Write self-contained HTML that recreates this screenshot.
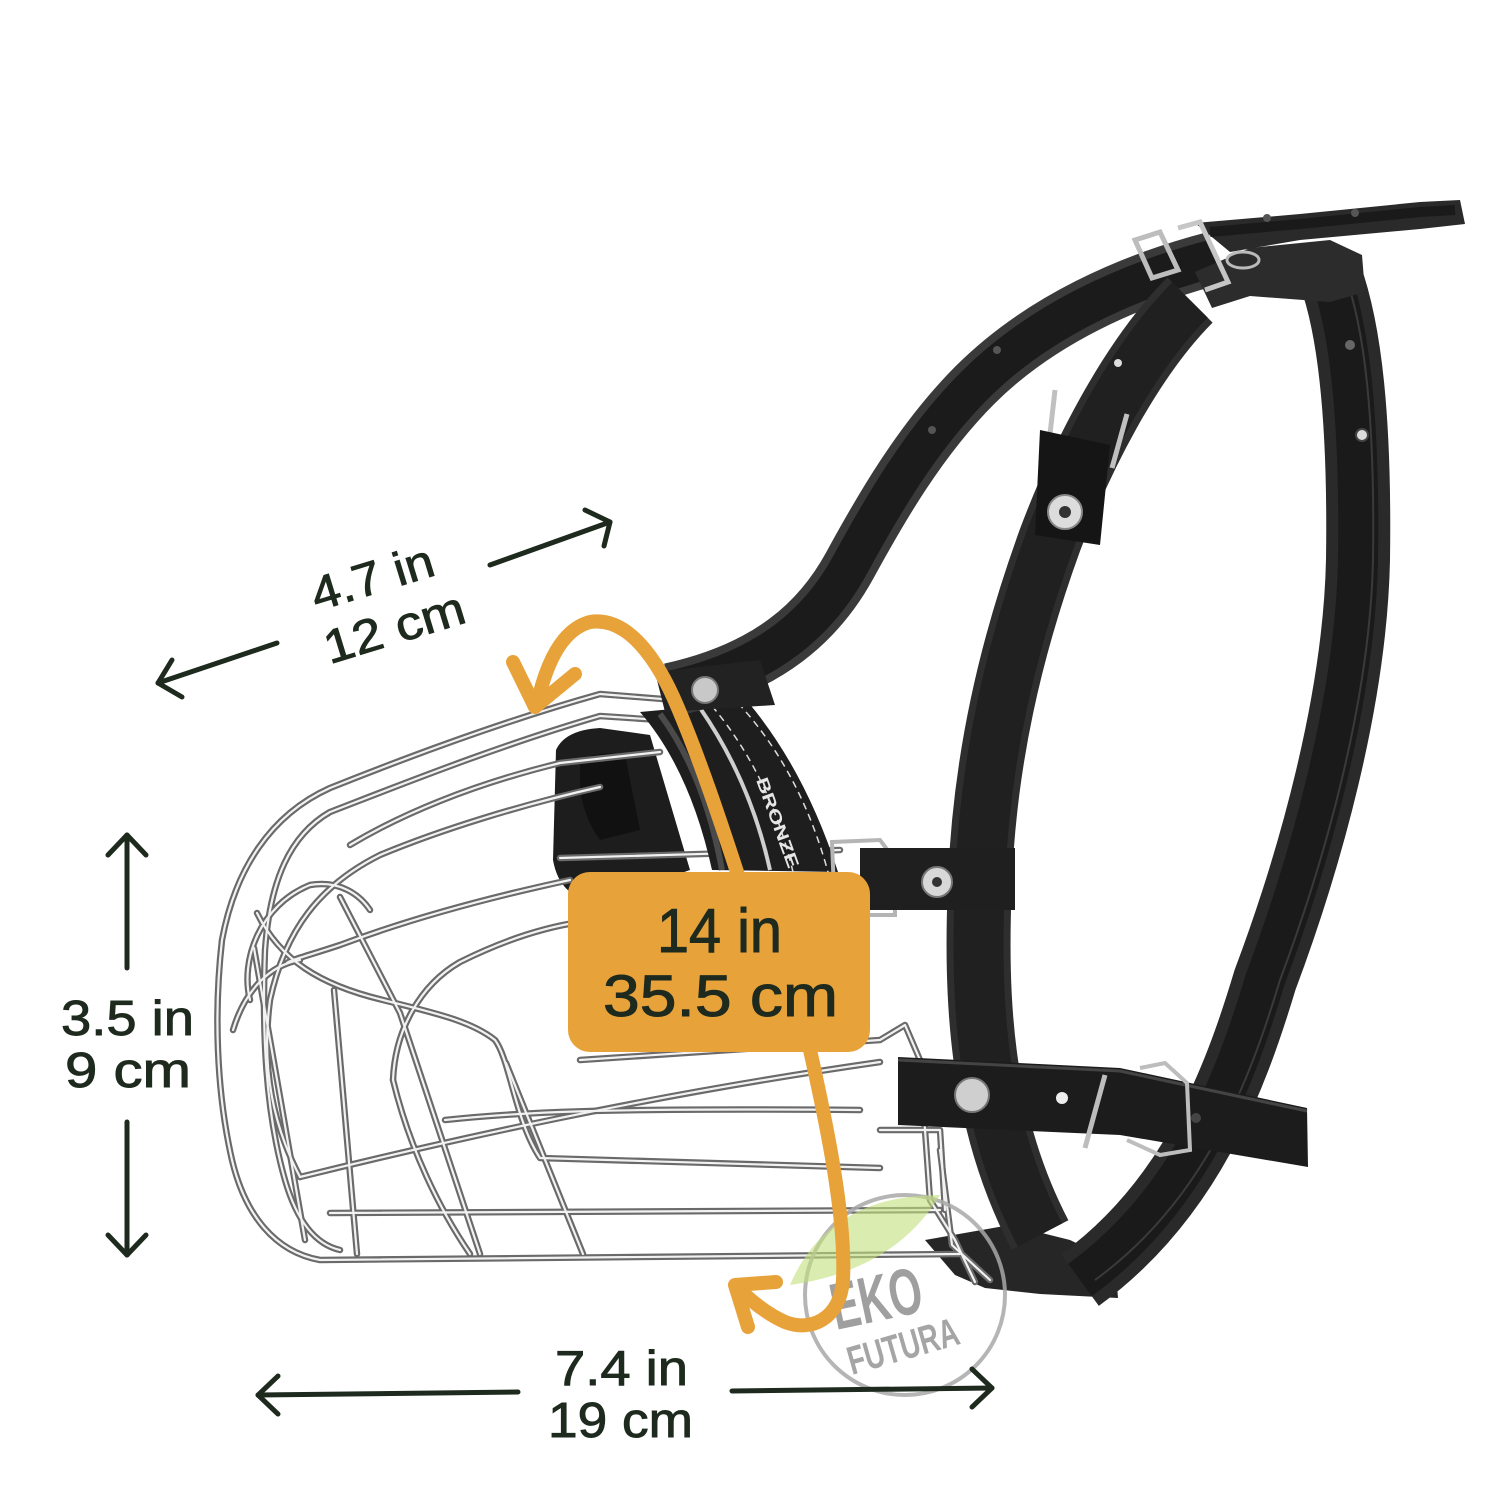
<!DOCTYPE html>
<html><head><meta charset="utf-8">
<style>
html,body{margin:0;padding:0;background:#fff;}
svg{display:block;}
text{font-family:"Liberation Sans",sans-serif;}
</style></head><body>
<svg width="1500" height="1500" viewBox="0 0 1500 1500" xmlns="http://www.w3.org/2000/svg">
<rect width="1500" height="1500" fill="#fff"/>
<defs>
  <g id="wires">
    <path d="M700,702 L600,694 C500,722 400,760 330,788 C270,815 235,870 222,940 C214,1010 216,1090 232,1160 C245,1215 275,1252 320,1260 L960,1254"/>
    <path d="M690,722 L600,716 C500,745 400,785 330,812 C290,835 270,880 265,950 C262,1030 265,1110 285,1180 C298,1225 318,1245 340,1250"/>
    <path d="M600,787 C520,805 440,830 380,855 C320,885 285,930 270,1000 C262,1060 270,1120 300,1177"/>
    <path d="M660,752 L560,763 C470,785 400,815 350,845"/>
    <path d="M570,880 C500,895 420,915 340,945 C310,955 290,960 287,963"/>
    <path d="M257,913 C280,960 320,985 383,1000 C430,1012 470,1020 495,1040 C510,1060 515,1120 540,1158 L880,1168"/>
    <path d="M393,1080 C395,1030 420,985 460,962 C500,942 540,928 580,922"/>
    <path d="M250,1000 C240,960 260,905 310,885 C340,880 360,895 370,910"/>
    <path d="M233,1030 C245,990 270,965 300,960"/>
    <path d="M340,897 L400,1013 L480,1254"/>
    <path d="M393,1080 C410,1150 440,1210 470,1254"/>
    <path d="M254,948 L305,1240"/>
    <path d="M334,990 L357,1254"/>
    <path d="M506,1063 L583,1254"/>
    <path d="M330,1213 L940,1210"/>
    <path d="M300,1177 C450,1140 650,1095 880,1062"/>
    <path d="M445,1120 C520,1112 600,1108 860,1110"/>
    <path d="M580,1060 L880,1040 L905,1025 L920,1060 L930,1200 L955,1240 L975,1282"/>
    <path d="M940,1150 L952,1245 L990,1280"/>
    <path d="M880,1130 L940,1130 L945,1210"/>
    <path d="M560,858 L840,850"/>
  </g>
</defs>

<!-- bottom strap block -->
<path d="M925,1240 L1010,1225 L1070,1240 L1115,1262 L1118,1298 L1040,1294 L985,1288 L955,1275 Z" fill="#262626"/>

<!-- black pad -->
<path d="M556,750 Q565,730 600,728 L650,735 L690,870 L600,902 Q560,900 553,860 Z" fill="#1d1d1d"/>
<path d="M580,760 Q600,750 625,755 L640,830 L600,840 Q585,820 580,790 Z" fill="#111"/>

<!-- cage wires -->
<g fill="none" stroke="#6a6a6a" stroke-width="6.5" stroke-linecap="round" stroke-linejoin="round"><use href="#wires"/></g>
<g fill="none" stroke="#f2f2f2" stroke-width="2.2" stroke-linecap="round" stroke-linejoin="round"><use href="#wires"/></g>

<!-- nose band -->
<path d="M640,712 Q690,770 712,870 L838,872 Q805,770 748,702 Z" fill="#1e1e1e"/>
<path d="M660,714 Q705,775 722,870" fill="none" stroke="#4a4a4a" stroke-width="6"/>
<path d="M700,708 Q750,780 770,870" fill="none" stroke="#cfcfcf" stroke-width="4"/>
<path d="M712,706 Q770,775 793,872" fill="none" stroke="#ddd" stroke-width="1.5" stroke-dasharray="7 5"/>
<path d="M738,703 Q800,770 828,872" fill="none" stroke="#ddd" stroke-width="1.5" stroke-dasharray="7 5"/>
<text transform="translate(756,780) rotate(70)" font-size="17" font-weight="bold" fill="#e6e6e6" textLength="95" lengthAdjust="spacingAndGlyphs">BRONZE</text>

<!-- strap A -->
<path d="M1215,258 C1130,280 1040,320 975,385 C920,440 880,510 850,565 C820,620 770,668 670,690" fill="none" stroke="#3a3a3a" stroke-width="54"/>
<path d="M1215,258 C1130,280 1040,320 975,385 C920,440 880,510 850,565 C820,620 770,668 670,690" fill="none" stroke="#1b1b1b" stroke-width="38"/>
<path d="M655,672 L760,660 L775,705 L665,712 Z" fill="#222"/>
<circle cx="705" cy="690" r="13" fill="#c8c8c8" stroke="#777" stroke-width="2"/>
<circle cx="997" cy="350" r="4" fill="#555"/>
<circle cx="932" cy="430" r="4" fill="#555"/>

<!-- strap B -->
<path d="M1190,300 C1130,360 1080,460 1050,540 C1010,650 985,760 980,880 C975,1000 980,1120 1040,1235" fill="none" stroke="#2e2e2e" stroke-width="64"/>
<path d="M1190,300 C1130,360 1080,460 1050,540 C1010,650 985,760 980,880 C975,1000 980,1120 1040,1235" fill="none" stroke="#202020" stroke-width="50"/>
<circle cx="1118" cy="363" r="4" fill="#ddd"/>

<!-- strap C -->
<path d="M1330,275 C1350,330 1360,420 1358,560 C1355,700 1310,860 1265,980 C1235,1080 1190,1200 1080,1280" fill="none" stroke="#2a2a2a" stroke-width="64"/>
<path d="M1330,275 C1350,330 1360,420 1358,560 C1355,700 1310,860 1265,980 C1235,1080 1190,1200 1080,1280" fill="none" stroke="#1a1a1a" stroke-width="40"/>
<path d="M1345,275 C1365,330 1375,420 1373,560 C1370,700 1325,860 1280,980 C1250,1080 1205,1200 1095,1280" fill="none" stroke="#3a3a3a" stroke-width="2"/>
<circle cx="1350" cy="345" r="5" fill="#666"/>
<circle cx="1362" cy="435" r="6" fill="#ddd" stroke="#444" stroke-width="2"/>

<!-- keeper & tongue -->
<path d="M1195,272 L1250,248 L1330,240 L1362,255 L1365,292 L1330,302 L1250,296 L1212,308 Z" fill="#2c2c2c"/>
<path d="M1195,223 L1300,214 L1420,202 L1460,200 L1465,224 L1420,229 L1300,240 L1230,252 Z" fill="#2a2a2a"/>
<path d="M1210,232 L1300,224 L1420,212 L1455,210" fill="none" stroke="#1a1a1a" stroke-width="10"/>
<circle cx="1267" cy="218" r="4" fill="#555"/>
<circle cx="1355" cy="213" r="4" fill="#555"/>
<!-- top buckles -->
<path d="M1135,240 L1160,232 L1178,270 L1152,278 Z" fill="none" stroke="#bdbdbd" stroke-width="5"/>
<path d="M1178,228 L1200,222 L1228,282 L1205,290" fill="none" stroke="#c6c6c6" stroke-width="5"/>
<ellipse cx="1243" cy="260" rx="16" ry="8" fill="none" stroke="#bbb" stroke-width="3"/>

<!-- strap B buckle & rivet -->
<path d="M1055,390 L1045,478" stroke="#c0c0c0" stroke-width="5"/>
<path d="M1127,414 L1112,468" stroke="#c0c0c0" stroke-width="5"/>
<path d="M1040,430 L1110,445 L1100,545 L1035,535 Z" fill="#151515"/>
<circle cx="1065" cy="512" r="17" fill="#dcdcdc" stroke="#888" stroke-width="2"/>
<circle cx="1065" cy="512" r="6" fill="#333"/>

<!-- horizontal strap 1 -->
<path d="M832,842 L880,840 L895,860 L895,915 L835,915 Z" fill="none" stroke="#b5b5b5" stroke-width="4"/>
<rect x="860" y="848" width="155" height="62" fill="#1f1f1f"/>
<circle cx="937" cy="882" r="15" fill="#d8d8d8" stroke="#777" stroke-width="2"/>
<circle cx="937" cy="882" r="5" fill="#333"/>

<!-- horizontal strap 2 -->
<path d="M898,1057 L1120,1068 L1307,1108 L1308,1167 L1120,1135 L898,1125 Z" fill="#1c1c1c"/>
<path d="M898,1060 L1120,1071 L1307,1111" fill="none" stroke="#444" stroke-width="3"/>
<circle cx="972" cy="1095" r="17" fill="#cfcfcf" stroke="#777" stroke-width="2"/>
<circle cx="1062" cy="1098" r="6" fill="#eee"/>
<circle cx="1196" cy="1118" r="5" fill="#444"/>
<path d="M1140,1068 L1165,1063 L1187,1083 L1190,1150 L1160,1155 L1127,1140" fill="none" stroke="#bdbdbd" stroke-width="4"/>
<path d="M1085,1148 L1105,1075" stroke="#bdbdbd" stroke-width="5"/>

<!-- watermark -->
<circle cx="905" cy="1295" r="100" fill="none" stroke="#a8a8a8" stroke-width="4" opacity="0.85"/>
<path d="M790,1285 C820,1215 880,1195 940,1195 C910,1245 860,1275 790,1285 Z" fill="#c2df7c" opacity="0.6"/>
<text transform="translate(836,1330) rotate(-12)" font-size="66" font-weight="bold" fill="#8f8f8f" opacity="0.85" textLength="92" lengthAdjust="spacingAndGlyphs">EKO</text>
<text transform="translate(852,1375) rotate(-16)" font-size="40" font-weight="bold" fill="#8f8f8f" opacity="0.8" textLength="114" lengthAdjust="spacingAndGlyphs">FUTURA</text>

<!-- orange arrows -->
<g fill="none" stroke="#E8A23A" stroke-width="14" stroke-linecap="round" stroke-linejoin="round">
  <path d="M537,705 C545,668 560,630 590,622 C628,616 658,660 678,708 C700,760 720,820 738,875"/>
  <path d="M513,662 L535,707 L575,674"/>
  <path d="M810,1050 C828,1130 846,1220 843,1280 C840,1320 810,1332 785,1322 C765,1313 750,1300 738,1288"/>
  <path d="M776,1282 L735,1285 L748,1327"/>
</g>

<!-- orange box -->
<rect x="568" y="872" width="302" height="180" rx="22" fill="#E8A23A"/>
<g fill="#1e2a1e" stroke="#1e2a1e" stroke-width="1">
<text x="657" y="952" font-size="62" textLength="125" lengthAdjust="spacingAndGlyphs">14 in</text>
<text x="603" y="1016" font-size="58" textLength="235" lengthAdjust="spacingAndGlyphs">35.5 cm</text>
</g>

<!-- dimension arrows -->
<g fill="none" stroke="#1e2a1e" stroke-width="5" stroke-linecap="round" stroke-linejoin="round">
  <path d="M127,835 L127,968"/><path d="M108,855 L127,835 L146,855"/>
  <path d="M127,1122 L127,1255"/><path d="M108,1235 L127,1255 L146,1235"/>
  <path d="M258,1395 L518,1392"/><path d="M278,1376 L258,1395 L278,1414"/>
  <path d="M732,1391 L992,1388"/><path d="M972,1369 L992,1388 L972,1407"/>
  <path d="M158,683 L277,643"/><path d="M172,660 L158,683 L182,697"/>
  <path d="M490,565 L610,522"/><path d="M585,510 L610,522 L604,546"/>
</g>

<!-- labels -->
<g fill="#1e2a1e" stroke="#1e2a1e" stroke-width="0.9">
  <text x="61" y="1035" font-size="49" textLength="133" lengthAdjust="spacingAndGlyphs">3.5 in</text>
  <text x="65" y="1087" font-size="49" textLength="126" lengthAdjust="spacingAndGlyphs">9 cm</text>
  <text x="555" y="1385" font-size="49" textLength="133" lengthAdjust="spacingAndGlyphs">7.4 in</text>
  <text x="548" y="1437" font-size="49" textLength="145" lengthAdjust="spacingAndGlyphs">19 cm</text>
  <text transform="translate(377,593) rotate(-17)" text-anchor="middle" font-size="47" textLength="126" lengthAdjust="spacingAndGlyphs">4.7 in</text>
  <text transform="translate(399,643) rotate(-17)" text-anchor="middle" font-size="47" textLength="145" lengthAdjust="spacingAndGlyphs">12 cm</text>
</g>
</svg>
</body></html>
